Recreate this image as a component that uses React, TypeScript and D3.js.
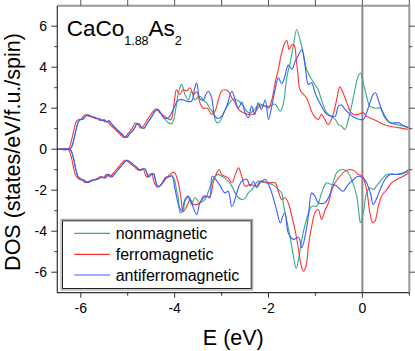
import React from 'react';
import * as d3 from 'd3';

type P = [number, number];

const X_DOMAIN: [number, number] = [-6.5, 1.0];
const Y_DOMAIN: [number, number] = [-7, 7];
const X_TICKS = [-6, -5, -4, -3, -2, -1, 0, 1];
const X_LABELS = [-6, -4, -2, 0];
const Y_TICKS = [-6, -5, -4, -3, -2, -1, 0, 1, 2, 3, 4, 5, 6];
const Y_LABELS = [-6, -4, -2, 0, 2, 4, 6];
const LEGEND = ['nonmagnetic', 'ferromagnetic', 'antiferromagnetic'];
const COLORS = ['#36aa80', '#ff3333', '#3a5cff'];

const commonUp: P[] = [[-6.5,0],[-6.24,0],[-6.2,0.08],[-6.15,0.45],[-6.1,0.95],[-6.05,1.35],[-6.0,1.45],[-5.95,1.47],[-5.9,1.6],[-5.85,1.68],[-5.8,1.63],[-5.75,1.58],[-5.7,1.55],[-5.65,1.5],[-5.6,1.48],[-5.55,1.4],[-5.5,1.43],[-5.45,1.33],[-5.4,1.38],[-5.35,1.25],[-5.3,1.12],[-5.2,0.9],[-5.1,0.68],[-5.05,0.57],[-5.0,0.62],[-4.95,0.78],[-4.9,0.88],[-4.85,1.05],[-4.8,1.25],[-4.75,1.22],[-4.7,1.05],[-4.65,1.02],[-4.6,1.2],[-4.5,1.55],[-4.42,1.85],[-4.36,1.95],[-4.3,1.78],[-4.25,1.58]];

const nmUpRest: P[] = [[-4.2,1.45],[-4.14,1.3],[-4.06,1.25],[-4.02,1.45],[-3.96,2.2],[-3.92,2.75],[-3.85,3.16],[-3.78,2.67],[-3.71,2.4],[-3.64,2.83],[-3.57,2.4],[-3.5,2.55],[-3.46,2.58],[-3.39,2.4],[-3.32,2.26],[-3.25,2.0],[-3.18,1.78],[-3.1,1.29],[-3.03,1.37],[-2.93,1.9],[-2.82,2.3],[-2.74,2.45],[-2.61,2.3],[-2.54,2.1],[-2.46,1.85],[-2.39,1.75],[-2.29,1.97],[-2.18,2.2],[-2.07,2.1],[-1.97,2.1],[-1.86,2.2],[-1.75,1.85],[-1.68,2.26],[-1.61,3.5],[-1.54,4.2],[-1.47,5.05],[-1.4,5.84],[-1.33,5.35],[-1.26,4.7],[-1.19,3.9],[-1.12,3.56],[-1.01,3.16],[-0.94,2.9],[-0.87,2.4],[-0.76,1.78],[-0.65,1.6],[-0.58,1.45],[-0.51,1.2],[-0.44,1.12],[-0.37,0.96],[-0.3,1.45],[-0.23,2.1],[-0.16,2.9],[-0.09,3.56],[-0.04,3.72],[0.02,3.24],[0.09,2.58],[0.16,2.1],[0.27,2.0],[0.38,2.0],[0.48,1.53],[0.59,1.29],[0.73,1.2],[0.87,1.12],[1.0,1.02]];

const afmUpRest: P[] = [[-4.2,1.5],[-4.13,1.53],[-4.03,1.94],[-3.92,2.4],[-3.81,2.4],[-3.74,2.34],[-3.64,2.34],[-3.57,3.0],[-3.53,3.24],[-3.46,2.45],[-3.39,2.4],[-3.35,2.6],[-3.28,2.83],[-3.21,2.5],[-3.14,1.6],[-3.07,1.5],[-3.0,1.6],[-2.89,2.1],[-2.78,2.83],[-2.71,2.4],[-2.64,2.0],[-2.57,2.3],[-2.5,1.78],[-2.43,1.53],[-2.36,2.1],[-2.29,1.7],[-2.22,2.26],[-2.15,1.94],[-2.07,2.4],[-2.0,1.45],[-1.93,2.1],[-1.86,2.9],[-1.79,3.48],[-1.72,3.2],[-1.65,3.56],[-1.58,4.1],[-1.5,3.9],[-1.43,4.3],[-1.36,4.6],[-1.29,4.86],[-1.22,4.05],[-1.15,3.16],[-1.08,3.24],[-1.01,2.75],[-0.94,2.4],[-0.87,2.1],[-0.76,1.7],[-0.65,1.6],[-0.58,1.6],[-0.51,2.1],[-0.44,2.15],[-0.37,1.94],[-0.26,1.7],[-0.16,1.53],[-0.05,1.45],[0.02,1.45],[0.09,1.78],[0.16,2.26],[0.23,2.67],[0.28,2.75],[0.34,2.4],[0.41,1.94],[0.48,1.6],[0.59,1.29],[0.77,1.29],[0.87,1.16],[1.0,1.04]];

const fmUp: P[] = [[-6.5,0],[-6.28,0],[-6.24,0.1],[-6.19,0.5],[-6.14,1.0],[-6.09,1.38],[-6.04,1.45],[-5.99,1.48],[-5.94,1.62],[-5.89,1.68],[-5.84,1.62],[-5.79,1.58],[-5.74,1.55],[-5.69,1.5],[-5.64,1.48],[-5.59,1.4],[-5.54,1.43],[-5.49,1.33],[-5.44,1.36],[-5.39,1.24],[-5.34,1.12],[-5.24,0.9],[-5.14,0.68],[-5.09,0.57],[-5.04,0.62],[-4.99,0.78],[-4.94,0.9],[-4.89,1.08],[-4.84,1.28],[-4.79,1.22],[-4.74,1.05],[-4.69,1.05],[-4.64,1.22],[-4.55,1.55],[-4.46,1.85],[-4.4,1.97],[-4.33,1.8],[-4.27,1.7],[-4.17,1.53],[-4.08,1.45],[-4.01,2.26],[-3.96,2.9],[-3.89,2.67],[-3.82,2.9],[-3.74,2.85],[-3.67,3.0],[-3.6,2.67],[-3.53,2.8],[-3.46,2.26],[-3.39,2.0],[-3.3,2.0],[-3.21,1.7],[-3.14,1.85],[-3.07,2.4],[-3.0,2.83],[-2.93,2.9],[-2.85,2.8],[-2.78,2.5],[-2.71,2.26],[-2.64,1.94],[-2.54,1.78],[-2.43,1.7],[-2.32,1.7],[-2.25,1.94],[-2.18,2.1],[-2.07,2.1],[-2.0,2.0],[-1.93,2.4],[-1.86,3.24],[-1.79,3.9],[-1.72,4.7],[-1.65,5.2],[-1.61,5.3],[-1.56,4.86],[-1.5,5.1],[-1.45,5.05],[-1.41,4.4],[-1.37,3.6],[-1.33,2.9],[-1.19,2.5],[-1.05,1.7],[-0.94,1.45],[-0.87,1.7],[-0.8,1.45],[-0.73,1.2],[-0.62,1.7],[-0.55,2.4],[-0.48,3.04],[-0.43,2.85],[-0.33,2.26],[-0.26,1.85],[-0.19,1.7],[-0.09,1.7],[0.02,1.78],[0.09,1.6],[0.16,1.53],[0.31,1.37],[0.45,1.2],[0.59,1.12],[0.8,1.04],[0.98,0.96]];

const commonDn: P[] = [[-6.5,0],[-6.24,0],[-6.2,-0.1],[-6.15,-0.5],[-6.1,-1.05],[-6.06,-1.32],[-6.0,-1.45],[-5.93,-1.52],[-5.86,-1.62],[-5.8,-1.58],[-5.72,-1.5],[-5.66,-1.48],[-5.6,-1.42],[-5.55,-1.35],[-5.48,-1.4],[-5.41,-1.23],[-5.34,-1.35],[-5.28,-1.2],[-5.2,-0.99],[-5.1,-0.72],[-5.02,-0.54],[-4.95,-0.62],[-4.88,-0.75],[-4.8,-0.9],[-4.74,-1.02],[-4.68,-0.98],[-4.63,-0.96],[-4.56,-1.35],[-4.5,-1.25],[-4.45,-1.19],[-4.4,-1.6],[-4.35,-1.83],[-4.28,-1.7],[-4.2,-1.4],[-4.13,-1.35],[-4.06,-1.3]];

const nmDnRest: P[] = [[-4.0,-1.5],[-3.96,-2.0],[-3.92,-2.37],[-3.88,-3.1],[-3.82,-3.0],[-3.78,-2.54],[-3.71,-2.37],[-3.64,-2.7],[-3.57,-2.37],[-3.46,-2.61],[-3.35,-2.45],[-3.28,-2.05],[-3.21,-1.64],[-3.14,-1.32],[-3.07,-1.23],[-3.0,-1.32],[-2.93,-1.4],[-2.86,-1.56],[-2.78,-1.8],[-2.71,-2.13],[-2.64,-2.37],[-2.57,-2.45],[-2.5,-2.4],[-2.43,-2.13],[-2.36,-1.97],[-2.29,-1.75],[-2.22,-1.56],[-2.15,-1.6],[-2.07,-1.64],[-1.97,-1.68],[-1.86,-1.8],[-1.79,-1.97],[-1.72,-2.13],[-1.68,-2.7],[-1.61,-3.5],[-1.54,-4.3],[-1.47,-5.2],[-1.41,-5.82],[-1.36,-5.38],[-1.29,-4.4],[-1.19,-3.43],[-1.08,-2.78],[-0.97,-2.78],[-0.87,-2.13],[-0.76,-1.64],[-0.65,-1.72],[-0.55,-1.15],[-0.44,-0.99],[-0.33,-1.07],[-0.23,-1.48],[-0.12,-2.29],[-0.07,-3.19],[-0.04,-3.59],[0.02,-3.1],[0.09,-2.13],[0.16,-1.88],[0.23,-1.97],[0.3,-1.8],[0.41,-1.48],[0.52,-1.23],[0.66,-1.23],[0.8,-1.23],[0.91,-1.15],[1.0,-1.07]];

const afmDnRest: P[] = [[-3.99,-1.97],[-3.92,-2.7],[-3.85,-3.02],[-3.78,-2.45],[-3.71,-2.29],[-3.64,-2.61],[-3.53,-3.19],[-3.46,-2.61],[-3.32,-2.29],[-3.25,-2.37],[-3.2,-1.32],[-3.07,-1.64],[-2.93,-2.13],[-2.86,-2.05],[-2.78,-2.8],[-2.64,-1.88],[-2.57,-1.56],[-2.46,-1.48],[-2.39,-1.8],[-2.32,-1.56],[-2.25,-1.88],[-2.18,-1.64],[-2.07,-1.48],[-1.97,-1.88],[-1.93,-2.13],[-1.83,-2.94],[-1.75,-3.6],[-1.7,-3.3],[-1.65,-3.1],[-1.58,-4.08],[-1.47,-4.4],[-1.36,-4.3],[-1.29,-4.8],[-1.22,-4.24],[-1.15,-3.27],[-1.08,-2.13],[-1.01,-2.29],[-0.94,-2.61],[-0.8,-2.61],[-0.69,-2.21],[-0.62,-1.72],[-0.51,-1.88],[-0.41,-2.05],[-0.3,-1.72],[-0.19,-1.48],[-0.09,-1.32],[0.02,-1.4],[0.09,-1.64],[0.18,-2.21],[0.23,-2.7],[0.31,-2.37],[0.38,-1.97],[0.48,-1.48],[0.59,-1.23],[0.73,-1.23],[0.87,-1.15],[1.0,-0.99]];

const fmDn: P[] = [[-6.5,0],[-6.28,0],[-6.24,-0.1],[-6.19,-0.5],[-6.14,-1.05],[-6.1,-1.32],[-6.04,-1.45],[-5.97,-1.52],[-5.9,-1.62],[-5.84,-1.58],[-5.76,-1.5],[-5.7,-1.48],[-5.64,-1.42],[-5.59,-1.35],[-5.52,-1.4],[-5.45,-1.23],[-5.38,-1.35],[-5.32,-1.2],[-5.24,-0.99],[-5.14,-0.72],[-5.06,-0.54],[-4.99,-0.62],[-4.92,-0.75],[-4.84,-0.9],[-4.78,-1.02],[-4.72,-0.98],[-4.67,-0.96],[-4.6,-1.35],[-4.54,-1.25],[-4.49,-1.19],[-4.44,-1.6],[-4.38,-1.83],[-4.31,-1.8],[-4.2,-1.48],[-4.1,-1.23],[-4.01,-1.12],[-3.94,-1.48],[-3.87,-2.29],[-3.82,-3.05],[-3.74,-2.78],[-3.67,-2.45],[-3.6,-2.7],[-3.46,-2.61],[-3.39,-2.29],[-3.25,-2.29],[-3.18,-1.64],[-3.1,-1.15],[-3.05,-0.99],[-3.0,-1.23],[-2.86,-1.4],[-2.78,-1.64],[-2.7,-1.2],[-2.64,-0.91],[-2.57,-1.32],[-2.5,-1.8],[-2.39,-1.72],[-2.25,-1.8],[-2.18,-1.56],[-2.0,-1.64],[-1.86,-1.64],[-1.79,-2.05],[-1.72,-2.45],[-1.65,-2.37],[-1.58,-2.61],[-1.5,-3.3],[-1.43,-4.0],[-1.36,-4.9],[-1.31,-5.6],[-1.26,-5.95],[-1.2,-5.7],[-1.15,-4.73],[-1.08,-3.76],[-1.01,-3.1],[-0.94,-2.94],[-0.87,-3.43],[-0.8,-3.0],[-0.72,-2.61],[-0.65,-1.97],[-0.58,-1.64],[-0.48,-1.32],[-0.37,-1.07],[-0.26,-0.99],[-0.16,-1.07],[-0.09,-1.23],[0.0,-1.32],[0.09,-1.97],[0.16,-3.1],[0.22,-3.59],[0.27,-3.5],[0.34,-2.78],[0.41,-2.29],[0.52,-1.97],[0.62,-1.64],[0.73,-1.48],[0.87,-1.32],[1.0,-1.15]];

const nmUp = commonUp.concat(nmUpRest);
const afmUp = commonUp.concat(afmUpRest);
const nmDn = commonDn.concat(nmDnRest);
const afmDn = commonDn.concat(afmDnRest);

const FONT = "'Liberation Sans', Arial, Helvetica, sans-serif";

export default function App() {
  const L = 57.3, R = 409.3, T = 5.7, B = 292.7;
  const x = d3.scaleLinear().domain(X_DOMAIN).range([L, R]);
  const y = d3.scaleLinear().domain(Y_DOMAIN).range([B, T]);
  const line = d3.line<P>().x(d => x(d[0])).y(d => y(d[1])).curve(d3.curveCatmullRom.alpha(0.5));

  const series = [
    { data: [nmUp, nmDn], color: COLORS[0] },
    { data: [fmUp, fmDn], color: COLORS[1] },
    { data: [afmUp, afmDn], color: COLORS[2] },
  ];

  const legX = 61, legY = 219.3, legW = 191.7, legH = 70.7;
  const rowY = [233.3, 254.3, 275];

  return (
    <svg width={415} height={351} style={{ position: 'absolute', left: 0, top: 0, background: '#fff' }}
      fontFamily={FONT}>
      <defs>
        <clipPath id="plot"><rect x={L} y={T} width={R - L} height={B - T} /></clipPath>
      </defs>
      <rect x={0} y={0} width={415} height={351} fill="#fff" />

      {/* zero energy line */}
      <line x1={x(0)} x2={x(0)} y1={T} y2={B} stroke="#8a8a8a" strokeWidth={2} />

      <g clipPath="url(#plot)">
        {series.map((s, i) => s.data.map((d, j) => (
          <path key={`${i}-${j}`} d={line(d) || ''} fill="none" stroke={s.color} strokeWidth={1.1} strokeLinejoin="round" />
        )))}
      </g>

      {/* top & right frame */}
      <line x1={L} x2={R} y1={T} y2={T} stroke="#999" strokeWidth={2} />
      <line x1={R} x2={R} y1={T} y2={B} stroke="#999" strokeWidth={2} />
      {/* left & bottom axes */}
      <line x1={L} x2={L} y1={T} y2={B + 0.5} stroke="#333" strokeWidth={1.2} />
      <line x1={L} x2={R} y1={B} y2={B} stroke="#333" strokeWidth={1.2} />

      {/* x ticks */}
      {X_TICKS.map(t => {
        const major = t % 2 === 0;
        return (
          <g key={`xt${t}`}>
            <line x1={x(t)} x2={x(t)} y1={B} y2={B + (major ? 5 : 3)} stroke="#333" strokeWidth={1} />
            <line x1={x(t)} x2={x(t)} y1={T} y2={T - 6} stroke="#555" strokeWidth={1} />
          </g>
        );
      })}
      {X_LABELS.map(t => (
        <text key={`xl${t}`} x={x(t)} y={313.3} fontSize={14} textAnchor="middle" fill="#000">{t}</text>
      ))}

      {/* y ticks */}
      {Y_TICKS.map(t => {
        const major = t % 2 === 0;
        return (
          <g key={`yt${t}`}>
            <line x1={L} x2={L - (major ? 6 : 3)} y1={y(t)} y2={y(t)} stroke="#333" strokeWidth={1} />
            <line x1={R} x2={R + (major ? 6 : 3)} y1={y(t)} y2={y(t)} stroke="#444" strokeWidth={1} />
          </g>
        );
      })}
      {Y_LABELS.map(t => (
        <text key={`yl${t}`} x={47} y={y(t)} dy="0.36em" fontSize={14} textAnchor="end" fill="#000">{t}</text>
      ))}

      {/* axis titles */}
      <text x={233.3} y={345} fontSize={21.5} textAnchor="middle" fill="#000">E (eV)</text>
      <text transform="translate(19.5,152) rotate(-90)" fontSize={21.5} textAnchor="middle" fill="#000">
        DOS (states/eV/f.u./spin)
      </text>

      {/* compound label */}
      <text x={66.7} y={36} fontSize={22.5} fill="#000">
        CaCo<tspan fontSize={12.5} dy={9}>1.88</tspan><tspan dy={-9}>As</tspan><tspan fontSize={12.5} dy={9}>2</tspan>
      </text>

      {/* legend */}
      <rect x={legX} y={legY} width={legW} height={legH} fill="#fff" stroke="#999" strokeWidth={1} />
      <rect x={legX + 1.5} y={legY + 1.5} width={legW - 3} height={legH - 3} fill="none" stroke="#222" strokeWidth={1} />
      {LEGEND.map((name, i) => (
        <g key={name}>
          <line x1={74.3} x2={110} y1={rowY[i]} y2={rowY[i]} stroke={COLORS[i]} strokeWidth={1.2} />
          <text x={115.7} y={rowY[i] + 5.8} fontSize={16} fill="#000">{name}</text>
        </g>
      ))}
    </svg>
  );
}
